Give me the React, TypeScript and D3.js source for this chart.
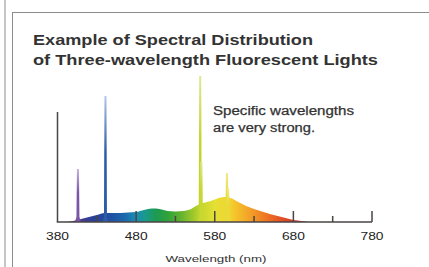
import React from 'react';
import * as d3 from 'd3';

// continuum of the lamp (relative units)
const contNm = [388, 400, 410, 420, 430, 440, 450, 460, 470, 480, 490, 500, 510, 520, 530, 540, 550, 556, 565, 575, 585, 593, 600, 610, 620, 630, 640, 650, 660, 670, 680, 690, 700];
const contVal = [0, 1, 3, 5, 7, 9, 9, 9, 9.5, 10, 12, 13.5, 13, 11, 10.5, 11, 13, 16, 19, 21, 24, 25, 24, 20, 16, 13, 10.5, 8, 6, 4, 2, 1, 0];

// sharp emission lines
const peakNm = [406, 441, 561.5, 563, 595.5, 597];
const peakVal = [53, 126, 146, 60, 49, 34];
const peakColor = ['#7a56a6', '#2c5ca8', '#c2d52c', '#c8d832', '#e6dc3a', '#e8da3a'];
const peakTop = ['#c4b6de', '#b4c8ea', '#dfe89a', '#dfe89a', '#f0ea90', '#f0ea90'];

// spectrum colours used for the fill
const stopNm = [388, 405, 425, 445, 465, 480, 492, 505, 520, 535, 550, 562, 580, 598, 612, 630, 650, 668, 684, 700];
const stopColor = ['#6a4a9a', '#4a3a8e', '#2b3f96', '#1f4fa0', '#1b67ae', '#1a8cb2', '#199a8a', '#1c9a52', '#2fa23a', '#5cb030', '#94c42c', '#c4d62a', '#e4e036', '#f3d42e', '#f4b82a', '#f29628', '#ec6c24', '#e04a26', '#c43a2a', '#9a2e2e'];

const majorTicks = [380, 480, 580, 680, 780];
const minorTicks = [430, 530, 630, 730];

const W = 429;
const H = 267;

const App = () => {
  const x = d3.scaleLinear().domain([380, 780]).range([57.5, 372]);
  const y = d3.scaleLinear().domain([0, 150]).range([222, 72]);

  const cont = contNm.map((d, i) => ({ nm: d, v: contVal[i] }));
  const area = d3.area<{ nm: number; v: number }>()
    .x(d => x(d.nm))
    .y0(y(0))
    .y1(d => y(d.v))
    .curve(d3.curveMonotoneX);

  const peakArea = d3.area<[number, number]>()
    .x(d => d[0])
    .y0(y(0))
    .y1(d => d[1]);

  const font = '"Liberation Sans", Arial, Helvetica, sans-serif';
  const axisColor = '#4a4444';

  return (
    <svg width={W} height={H} style={{ position: 'absolute', left: 0, top: 0 }}>
      <defs>
        <linearGradient id="spec" gradientUnits="userSpaceOnUse" x1={x(380)} x2={x(780)} y1={0} y2={0}>
          {stopNm.map((nm, i) => (
            <stop key={i} offset={(nm - 380) / 400} stopColor={stopColor[i]} />
          ))}
        </linearGradient>
        {peakNm.map((nm, i) => (
          <linearGradient key={i} id={`pk${i}`} x1={0} y1={1} x2={0} y2={0}>
            <stop offset={0} stopColor={peakColor[i]} />
            <stop offset={0.55} stopColor={peakColor[i]} />
            <stop offset={1} stopColor={peakTop[i]} />
          </linearGradient>
        ))}
      </defs>
      <rect width={W} height={H} fill="#fff" />

      {/* frame */}
      <line x1={5} x2={5} y1={0} y2={H} stroke="#8c8c8c" strokeWidth={1} />
      <line x1={12.5} x2={12.5} y1={12} y2={H} stroke="#8c8c8c" strokeWidth={1} />
      <line x1={12} x2={W} y1={12.5} y2={12.5} stroke="#8c8c8c" strokeWidth={1} />

      {/* title */}
      <text x={33} y={45} fontFamily={font} fontWeight="bold" fontSize={15} fill="#333" textLength={280} lengthAdjust="spacingAndGlyphs">Example of Spectral Distribution</text>
      <text x={33} y={65} fontFamily={font} fontWeight="bold" fontSize={15} fill="#333" textLength={345} lengthAdjust="spacingAndGlyphs">of Three-wavelength Fluorescent Lights</text>

      {/* spectrum */}
      <path d={area(cont) ?? ''} fill="url(#spec)" />
      {peakNm.map((nm, i) => {
        const px = x(nm);
        const base = y(5);
        const top = y(peakVal[i]);
        const pts: [number, number][] = [
          [px - 3, y(0)], [px - 1.5, base], [px - 1, top], [px + 1, top], [px + 1.5, base], [px + 3, y(0)],
        ];
        return <path key={i} d={peakArea(pts) ?? ''} fill={`url(#pk${i})`} />;
      })}

      {/* axes */}
      <line x1={x(380)} x2={x(380)} y1={y(0)} y2={y(110)} stroke={axisColor} strokeWidth={1.5} />
      <line x1={x(380) - 0.75} x2={x(780)} y1={y(0)} y2={y(0)} stroke={axisColor} strokeWidth={1.5} />
      {majorTicks.slice(1).map(t => (
        <line key={t} x1={x(t)} x2={x(t)} y1={y(0)} y2={y(0) - 11} stroke={axisColor} strokeWidth={1.5} />
      ))}
      {minorTicks.map(t => (
        <line key={t} x1={x(t)} x2={x(t)} y1={y(0)} y2={y(0) - 6} stroke={axisColor} strokeWidth={1.5} />
      ))}
      {majorTicks.map(t => (
        <text key={t} x={x(t)} y={240} textAnchor="middle" fontFamily={font} fontSize={10} fill="#222" textLength={23} lengthAdjust="spacingAndGlyphs">{t}</text>
      ))}
      <text x={216} y={262} textAnchor="middle" fontFamily={font} fontSize={9} fill="#333" textLength={101} lengthAdjust="spacingAndGlyphs">Wavelength (nm)</text>

      {/* annotation */}
      <text x={213} y={115} fontFamily={font} fontSize={12} fill="#333" stroke="#333" strokeWidth={0.25} textLength={141} lengthAdjust="spacingAndGlyphs">Specific wavelengths</text>
      <text x={213} y={132} fontFamily={font} fontSize={12} fill="#333" stroke="#333" strokeWidth={0.25} textLength={102} lengthAdjust="spacingAndGlyphs">are very strong.</text>
    </svg>
  );
};

export default App;
